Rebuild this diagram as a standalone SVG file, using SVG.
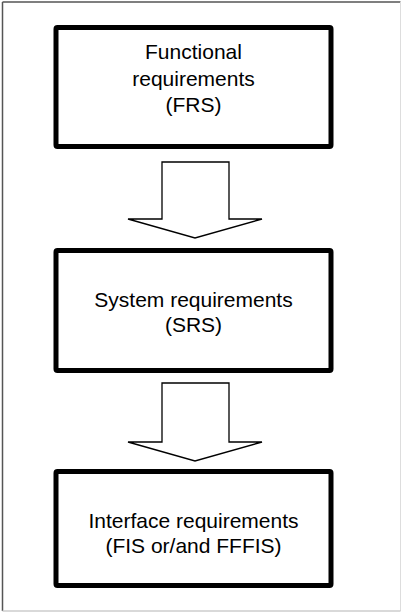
<svg xmlns="http://www.w3.org/2000/svg" width="401" height="612" viewBox="0 0 401 612">
<style>
.box{fill:#fff;stroke:#000;stroke-width:5;stroke-linejoin:round}
.arrow{fill:#fff;stroke:#000;stroke-width:1.3;stroke-linejoin:miter}
.t{font-family:"Liberation Sans",Arial,sans-serif;font-size:21px;fill:#000;text-anchor:middle}
</style>
<rect width="401" height="612" fill="#fff"/>
<g id="frame">
<line x1="2.5" y1="2" x2="400.5" y2="2" stroke="#555" stroke-width="1.5"/>
<line x1="2.5" y1="2" x2="2.5" y2="611" stroke="#555" stroke-width="1.5"/>
<line x1="400.5" y1="2" x2="400.5" y2="611" stroke="#ddd" stroke-width="1"/>
<line x1="2.5" y1="611" x2="400.5" y2="611" stroke="#ccc" stroke-width="1.5"/>
</g>
<g id="connectors">
<polygon class="arrow" points="162,162 229,162 229,219 262,219 195,238 128,219 162,219"/>
<polygon class="arrow" points="162,383 229,383 229,442 262,442 195,461 128,442 162,442"/>
</g>
<g id="frs">
<rect class="box" x="56" y="27.5" width="275" height="119" rx="1.5"/>
<text class="t" x="193.5" y="59">Functional</text>
<text class="t" x="193.5" y="85.5">requirements</text>
<text class="t" x="193.5" y="111.5">(FRS)</text>
</g>
<g id="srs">
<rect class="box" x="56" y="250.5" width="275" height="120" rx="1.5"/>
<text class="t" x="193.5" y="306.5">System requirements</text>
<text class="t" x="193.5" y="332">(SRS)</text>
</g>
<g id="fis">
<rect class="box" x="56" y="471.5" width="275" height="114" rx="1.5"/>
<text class="t" x="193.5" y="527.5">Interface requirements</text>
<text class="t" x="193.5" y="553">(FIS or/and FFFIS)</text>
</g>
</svg>
